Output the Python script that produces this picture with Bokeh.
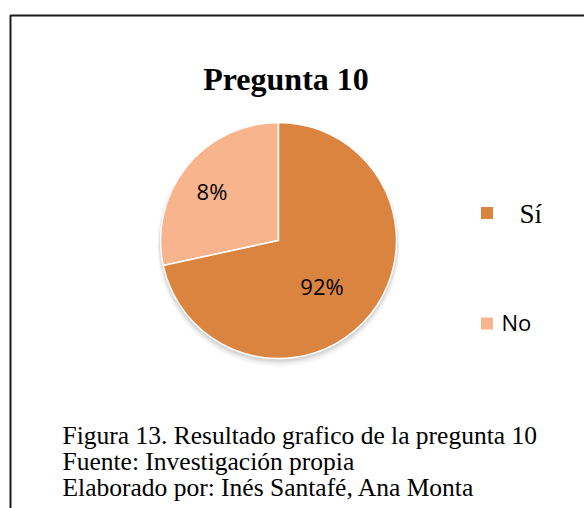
from bokeh.plotting import figure
from bokeh.models import Range1d
from bokeh.core.properties import value
from bokeh.embed import file_html
from bokeh.resources import INLINE
import math

# ---- data ----
categories = ["Sí", "No"]
shares = [71.6, 28.4]          # slice sizes as drawn
labels = ["92%", "8%"]          # labels as printed
colors = ["#DA843F", "#F8B48D"]
title = "Pregunta 10"
caption = ["Figura 13. Resultado grafico de la pregunta 10",
           "Fuente: Investigación propia",
           "Elaborado por: Inés Santafé, Ana Monta"]

W, H = 584, 508
p = figure(width=W, height=H, output_backend="svg", toolbar_location=None,
           x_range=Range1d(0, W), y_range=Range1d(0, H), min_border=0)
p.axis.visible = False
p.grid.visible = False
p.outline_line_color = None
p.background_fill_color = "white"
p.border_fill_color = "white"

def X(px): return px
def Y(py): return H - py

# frame (left and top edges visible)
p.line([X(10), X(10), X(620)], [Y(620), Y(15), Y(15)], line_color="#1a1a1a", line_width=2)

# title
p.text([X(285.5)], [Y(78)], text=[title], text_font=value("Liberation Serif"),
       text_font_style="bold", text_font_size="32px", text_align="center",
       text_baseline="alphabetic", text_color="black")

# pie
cx, cy, r = X(278), Y(240), 118
for i, a in enumerate([0.10, 0.07, 0.05, 0.03]):
    p.circle([cx], [cy - 2 - i], radius=r + 1 + i * 0.8, fill_color="#555555",
             fill_alpha=a, line_color=None)
total = sum(shares)
# "No" slice goes counter-clockwise from 12 o'clock, "Sí" fills the rest
start = math.pi / 2
no_end = start + 2 * math.pi * shares[1] / total
p.wedge([cx], [cy], radius=r, start_angle=[start], end_angle=[no_end],
        fill_color=colors[1], line_color="white", line_width=1.5)
p.wedge([cx], [cy], radius=r, start_angle=[no_end], end_angle=[start + 2 * math.pi],
        fill_color=colors[0], line_color="white", line_width=1.5)

# slice labels
p.text([X(211.5), X(321.5)], [Y(190), Y(285.5)], text=[labels[1], labels[0]],
       text_font=value("Open Sans"), text_font_size="22px", text_align="center",
       text_baseline="middle", text_color="black")

# legend
p.scatter([X(486.5), X(486.5)], [Y(212.5), Y(323)], marker="square", size=12,
          fill_color=colors, line_color=None)
p.text([X(519)], [Y(213)], text=[categories[0]], text_font=value("Liberation Serif"),
       text_font_size="27px", text_baseline="alphabetic", text_color="black")
p.text([X(501)], [Y(321)], text=[categories[1]], text_font=value("Open Sans"),
       text_font_size="22px", text_baseline="middle", text_color="black")

# caption
p.text([X(62)] * 3, [Y(435), Y(461), Y(487)], text=caption,
       text_font=value("Liberation Serif"), text_font_size="25.5px",
       text_baseline="alphabetic", text_color="black")

open("out.html", "w").write(file_html(p, INLINE))
